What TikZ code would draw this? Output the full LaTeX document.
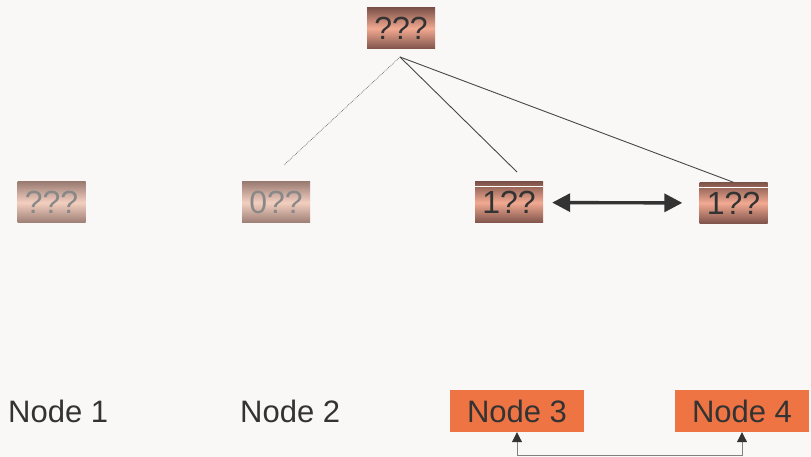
\documentclass[tikz,border=0pt]{standalone}
\usepackage{fontspec}
\setmainfont{Liberation Sans}
\usetikzlibrary{arrows.meta}

\definecolor{bgcol}{HTML}{F9F8F6}
\definecolor{boxdark}{HTML}{7E534A}
\definecolor{boxlight}{HTML}{F2A991}
\definecolor{fadedark}{HTML}{9C7D74}
\definecolor{fadelight}{HTML}{F3CFC0}
\definecolor{textdark}{HTML}{333333}
\definecolor{textgray}{HTML}{888888}
\definecolor{nodeorange}{HTML}{EE7444}

\begin{document}
\begin{tikzpicture}[x=1pt,y=-1pt,
    keybox/.style={minimum width=68pt,minimum height=41pt,inner sep=0pt,
      top color=boxdark,bottom color=boxdark,middle color=boxlight,
      text=textdark,font=\fontsize{32}{32}\selectfont},
    fadedbox/.style={keybox,top color=fadedark,bottom color=fadedark,
      middle color=fadelight,text=textgray},
    nodetext/.style={anchor=west,inner sep=0pt,text=textdark,
      font=\fontsize{31}{31}\selectfont},
    nodebox/.style={fill=nodeorange,minimum width=134pt,minimum height=42pt,
      inner sep=0pt,text=textdark,font=\fontsize{31}{31}\selectfont},
    link/.style={draw=textdark!90,line width=0.9pt},
    biarrow/.style={draw=textdark,line width=3.4pt,
      {Triangle[length=18pt,width=18pt]}-{Triangle[length=18pt,width=18pt]}},
    ringlink/.style={draw=gray,line width=1pt,
      {Triangle[length=10pt,width=10pt,color=textdark]}-{Triangle[length=10pt,width=10pt,color=textdark]}}
  ]
  \fill[bgcol] (0,0) rectangle (811,457);
  \useasboundingbox (0,0) rectangle (811,457);

  % key boxes
  \node[keybox] (root) at (401,28.5) {???};
  \node[fadedbox] (k1) at (51.5,202.5) {???};
  \node[fadedbox] (k2) at (276,202.5) {0??};
  \node[keybox] (k3) at (509,202.5) {1??};
  \node[keybox] (k4) at (733.5,203) {1??};
  \draw[white,line width=1.2pt] ([yshift=-5pt]k3.north west) -- ([yshift=-5pt]k3.north east);
  \draw[white,line width=1.2pt] ([yshift=-5pt]k4.north west) -- ([yshift=-5pt]k4.north east);

  % tree edges
  \coordinate (apex) at (400,57);
  \coordinate (toleft) at (284,165);
  \coordinate (tomid) at (517,172);
  \draw[gray!80!black,line width=0.7pt,densely dotted] (apex) -- (toleft);
  \draw[link] (apex) -- (tomid);
  \draw[link] (apex) -- (k4.north);
  \draw[biarrow,shorten <=9pt,shorten >=17pt] (k3) -- (k4);

  % nodes
  \node[nodetext] (n1) at (8,411) {Node 1};
  \node[nodetext] (n2) at (240,411) {Node 2};
  \node[nodebox] (n3) at (517,411) {Node 3};
  \node[nodebox] (n4) at (742,411) {Node 4};
  \draw[ringlink] (n3.south) -- ++(0,23) -| (n4.south);
\end{tikzpicture}
\end{document}
